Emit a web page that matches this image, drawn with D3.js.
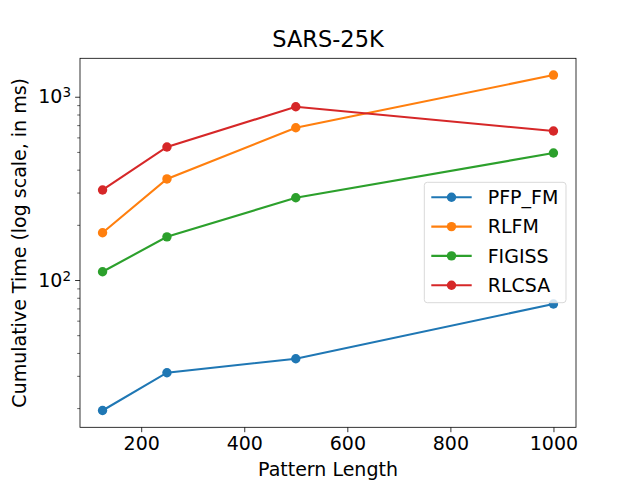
<!DOCTYPE html>
<html>
<head>
<meta charset="utf-8">
<script src="https://cdn.jsdelivr.net/npm/d3@7"></script>
<style>
  body { margin: 0; background: #fff; }
  text { font-family: "DejaVu Sans", sans-serif; fill: #000; }
</style>
</head>
<body>
<script>
var w = 640;
var h = 480;

var margin = { top: 58.3, bottom: 52.7, left: 80, right: 64 };

// data
var patternLengths = [125, 250, 500, 1000];
var seriesNames = ["PFP_FM", "RLFM", "FIGISS", "RLCSA"];
var pfpFm = [19.4, 31.2, 37.2, 74.0];
var rlfm = [181, 356, 677, 1313];
var figiss = [111, 172, 281, 493];
var rlcsa = [310, 532, 882, 650];
var colors = ["#1f77b4", "#ff7f0e", "#2ca02c", "#d62728"];
var xTicks = [200, 400, 600, 800, 1000];

var series = [pfpFm, rlfm, figiss, rlcsa].map(function(vals, i) {
  return { name: seriesNames[i], color: colors[i], values: vals };
});

var svg = d3.select("body")
  .append("svg")
  .attr("width", w)
  .attr("height", h);

// matplotlib style 5% margins (x linear, y in log space)
var xMin = d3.min(patternLengths), xMax = d3.max(patternLengths);
var xPad = (xMax - xMin) * 0.05;
var allVals = d3.merge(series.map(function(s) { return s.values; }));
var lMin = Math.log10(d3.min(allVals)), lMax = Math.log10(d3.max(allVals));
var lPad = (lMax - lMin) * 0.05;

var x = d3.scaleLinear()
  .domain([xMin - xPad, xMax + xPad])
  .range([margin.left, w - margin.right]);

var y = d3.scaleLog()
  .domain([Math.pow(10, lMin - lPad), Math.pow(10, lMax + lPad)])
  .range([h - margin.bottom, margin.top]);

var g = svg.append("g");

// x axis
var xAxis = g.append("g")
  .attr("transform", "translate(0," + (h - margin.bottom) + ")")
  .call(d3.axisBottom(x).tickValues(xTicks).tickSize(4.9).tickPadding(4.5).tickFormat(d3.format("d")));
xAxis.select(".domain").remove();
xAxis.selectAll("line").attr("stroke", "#000").attr("stroke-width", 0.8);
xAxis.selectAll("text").attr("font-size", "19px").attr("font-family", "DejaVu Sans");

// y axis, major + minor ticks
var yDom = y.domain();
var majors = [], minors = [];
for (var e = Math.floor(Math.log10(yDom[0])); e <= Math.ceil(Math.log10(yDom[1])); e++) {
  for (var m = 1; m < 10; m++) {
    var v = m * Math.pow(10, e);
    if (v < yDom[0] || v > yDom[1]) continue;
    if (m === 1) majors.push(v); else minors.push(v);
  }
}

var yMinor = g.append("g")
  .attr("transform", "translate(" + margin.left + ",0)")
  .call(d3.axisLeft(y).tickValues(minors).tickSize(2.8).tickFormat(""));
yMinor.select(".domain").remove();
yMinor.selectAll("line").attr("stroke", "#000").attr("stroke-width", 0.6);

var yMajor = g.append("g")
  .attr("transform", "translate(" + margin.left + ",0)")
  .call(d3.axisLeft(y).tickValues(majors).tickSize(4.9).tickPadding(4.5).tickFormat(""));
yMajor.select(".domain").remove();
yMajor.selectAll("line").attr("stroke", "#000").attr("stroke-width", 0.8);
yMajor.selectAll(".tick").append("text")
  .attr("x", -9)
  .attr("dy", "0.32em")
  .attr("text-anchor", "end")
  .attr("font-size", "19px")
  .each(function(d) {
    var t = d3.select(this);
    t.append("tspan").text("10");
    t.append("tspan").attr("dy", "-0.45em").attr("font-size", "13.5px").text(Math.round(Math.log10(d)));
  });

// frame
svg.append("rect")
  .attr("x", margin.left)
  .attr("y", margin.top)
  .attr("width", w - margin.left - margin.right)
  .attr("height", h - margin.top - margin.bottom)
  .attr("fill", "none")
  .attr("stroke", "#000")
  .attr("stroke-width", 0.8);

// lines and markers
var line = d3.line()
  .x(function(d, i) { return x(patternLengths[i]); })
  .y(function(d) { return y(d); });

var sg = svg.selectAll(".series")
  .data(series)
  .enter()
  .append("g")
  .attr("class", "series");

sg.append("path")
  .attr("d", function(d) { return line(d.values); })
  .attr("fill", "none")
  .attr("stroke", function(d) { return d.color; })
  .attr("stroke-width", 2.1);

sg.selectAll("circle")
  .data(function(d) { return d.values.map(function(v, i) { return { v: v, i: i, color: d.color }; }); })
  .enter()
  .append("circle")
  .attr("cx", function(d) { return x(patternLengths[d.i]); })
  .attr("cy", function(d) { return y(d.v); })
  .attr("r", 4.7)
  .attr("fill", function(d) { return d.color; });

// title and axis labels
svg.append("text")
  .attr("x", (margin.left + w - margin.right) / 2)
  .attr("y", 46.5)
  .attr("text-anchor", "middle")
  .attr("font-size", "22.5px")
  .text("SARS-25K");

svg.append("text")
  .attr("x", (margin.left + w - margin.right) / 2)
  .attr("y", 476)
  .attr("text-anchor", "middle")
  .attr("font-size", "19px")
  .text("Pattern Length");

svg.append("text")
  .attr("transform", "translate(26," + ((margin.top + h - margin.bottom) / 2) + ") rotate(-90)")
  .attr("text-anchor", "middle")
  .attr("font-size", "19px")
  .text("Cumulative Time (log scale, in ms)");

// legend
var legend = svg.append("g")
  .attr("class", "legend")
  .attr("transform", "translate(424.3,182.3)");

legend.append("rect")
  .attr("width", 141.7)
  .attr("height", 120.4)
  .attr("rx", 3)
  .attr("fill", "#fff")
  .attr("fill-opacity", 0.8)
  .attr("stroke", "#d9d9d9")
  .attr("stroke-width", 1);

var items = legend.selectAll(".item")
  .data(series)
  .enter()
  .append("g")
  .attr("class", "item")
  .attr("transform", function(d, i) { return "translate(0," + (15 + i * 29.3) + ")"; });

items.append("line")
  .attr("x1", 7).attr("x2", 47.4)
  .attr("stroke", function(d) { return d.color; })
  .attr("stroke-width", 2.1);

items.append("circle")
  .attr("cx", 27.2)
  .attr("r", 4.7)
  .attr("fill", function(d) { return d.color; });

items.append("text")
  .attr("x", 63.4)
  .attr("dy", "0.36em")
  .attr("font-size", "19px")
  .text(function(d) { return d.name; });
</script>
</body>
</html>
